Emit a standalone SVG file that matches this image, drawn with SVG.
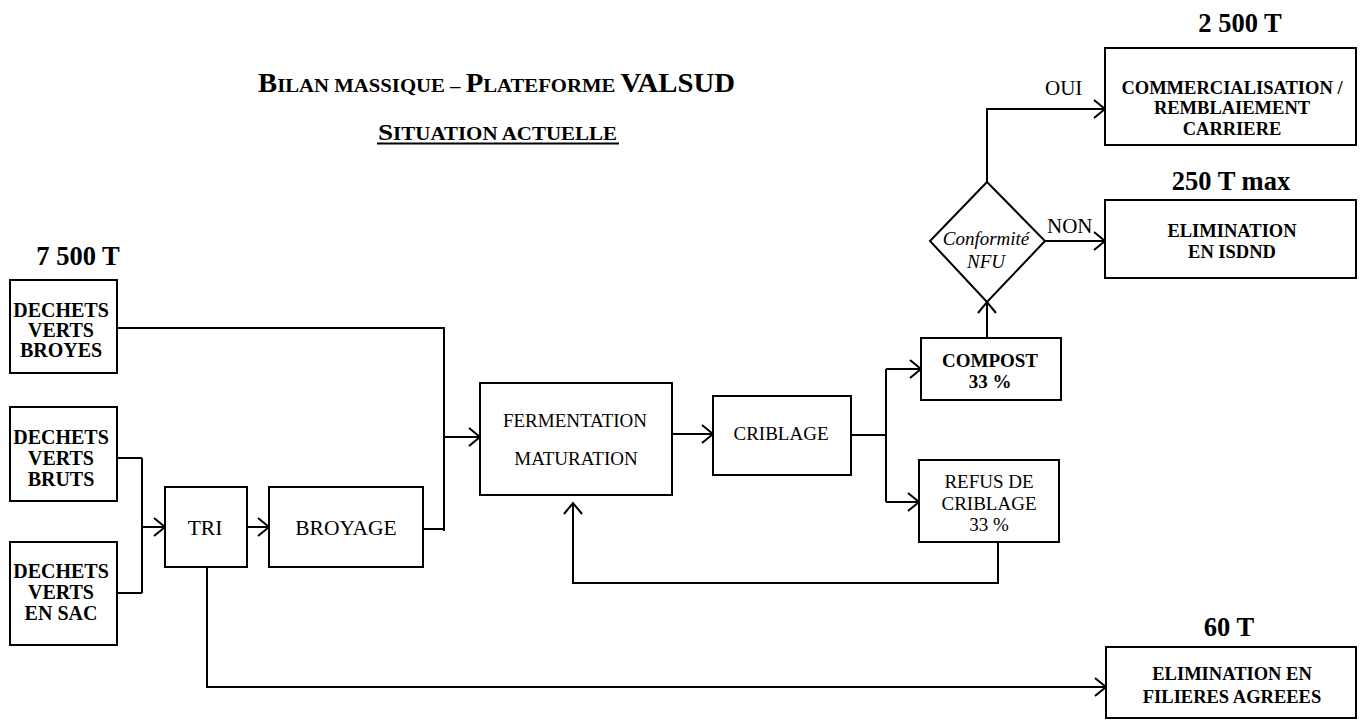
<svg xmlns="http://www.w3.org/2000/svg" width="1361" height="722" viewBox="0 0 1361 722">
<style>
.box{fill:#fff;stroke:#000;stroke-width:2}
.ln{fill:none;stroke:#000;stroke-width:2}
.t{font-family:"Liberation Serif","Times New Roman",serif;fill:#000}
.b{font-weight:bold;font-size:19px;text-anchor:middle}
.bd{font-weight:bold;font-size:20px;text-anchor:middle}
.bc{font-weight:bold;font-size:18.5px;text-anchor:middle}
.n{font-size:19px;text-anchor:middle}
.nl{font-size:21.5px;text-anchor:middle}
.it{font-size:19px;font-style:italic;text-anchor:middle}
.big{font-weight:bold;font-size:26.5px;text-anchor:middle}
.lab{font-size:21px}
</style>
<defs>
<marker id="ar" markerUnits="userSpaceOnUse" markerWidth="14" markerHeight="22" viewBox="-1 -10 14 20" refX="11" refY="0" orient="auto">
<path d="M0,-9 L11,0 L0,9" fill="none" stroke="#000" stroke-width="2"/>
</marker>
</defs>
<rect width="1361" height="722" fill="#fff"/>

<g id="title" class="t" font-weight="bold">
<text x="258" y="92" textLength="477" lengthAdjust="spacingAndGlyphs"><tspan font-size="27">B</tspan><tspan font-size="19.5">ILAN MASSIQUE – </tspan><tspan font-size="27">P</tspan><tspan font-size="19.5">LATEFORME </tspan><tspan font-size="27">VALSUD</tspan></text>
<text x="378" y="140" textLength="239" lengthAdjust="spacingAndGlyphs"><tspan font-size="24">S</tspan><tspan font-size="18.5">ITUATION ACTUELLE</tspan></text>
<line x1="377" y1="143.5" x2="619" y2="143.5" stroke="#000" stroke-width="2"/>
</g>

<g id="connectors">
<path class="ln" d="M117,328 H444 M444,327 V531 M423,529 H444"/>
<path class="ln" d="M444,437 H480" marker-end="url(#ar)"/>
<path class="ln" d="M117,458 H142 M117,593 H142 M142,458 V593"/>
<path class="ln" d="M142,527 H165" marker-end="url(#ar)"/>
<path class="ln" d="M247,527 H269" marker-end="url(#ar)"/>
<path class="ln" d="M207,567 V687 H1106" marker-end="url(#ar)"/>
<path class="ln" d="M672,434 H713" marker-end="url(#ar)"/>
<path class="ln" d="M851,435 H886 M886,369 V502"/>
<path class="ln" d="M886,369 H921" marker-end="url(#ar)"/>
<path class="ln" d="M886,502 H919" marker-end="url(#ar)"/>
<path class="ln" d="M987,338 V302" marker-end="url(#ar)"/>
<path class="ln" d="M987,182 V109 H1105" marker-end="url(#ar)"/>
<path class="ln" d="M1045,241 H1105" marker-end="url(#ar)"/>
<path class="ln" d="M998,542 V583 H573 V503" marker-end="url(#ar)"/>
<text class="t lab" x="1045" y="95">OUI</text>
<text class="t lab" x="1047" y="233">NON</text>
</g>

<g id="n-dvbroyes">
<text class="t big" x="78" y="265">7 500 T</text>
<rect class="box" x="10" y="280" width="107" height="93"/>
<text class="t bd" x="61" y="317">DECHETS</text>
<text class="t bd" x="61" y="337">VERTS</text>
<text class="t bd" x="61" y="357">BROYES</text>
</g>
<g id="n-dvbruts">
<rect class="box" x="10" y="407" width="107" height="94"/>
<text class="t bd" x="61" y="444">DECHETS</text>
<text class="t bd" x="61" y="465">VERTS</text>
<text class="t bd" x="61" y="486">BRUTS</text>
</g>
<g id="n-dvsac">
<rect class="box" x="10" y="542" width="107" height="103"/>
<text class="t bd" x="61" y="578">DECHETS</text>
<text class="t bd" x="61" y="599">VERTS</text>
<text class="t bd" x="61" y="620">EN SAC</text>
</g>
<g id="n-tri">
<rect class="box" x="165" y="487" width="82" height="80"/>
<text class="t nl" x="205" y="535">TRI</text>
</g>
<g id="n-broyage">
<rect class="box" x="269" y="487" width="154" height="80"/>
<text class="t nl" x="346" y="535">BROYAGE</text>
</g>
<g id="n-fermentation">
<rect class="box" x="480" y="383" width="192" height="112"/>
<text class="t n" x="575" y="427">FERMENTATION</text>
<text class="t n" x="576" y="465">MATURATION</text>
</g>
<g id="n-criblage">
<rect class="box" x="713" y="396" width="138" height="79"/>
<text class="t n" x="781" y="440">CRIBLAGE</text>
</g>
<g id="n-compost">
<rect class="box" x="921" y="338" width="140" height="62"/>
<text class="t b" x="990" y="367">COMPOST</text>
<text class="t b" x="990" y="388">33 %</text>
</g>
<g id="n-refus">
<rect class="box" x="919" y="460" width="140" height="82"/>
<text class="t n" x="989" y="488">REFUS DE</text>
<text class="t n" x="989" y="510">CRIBLAGE</text>
<text class="t n" x="989" y="531">33 %</text>
</g>
<g id="n-conformite">
<polygon class="box" points="987,182 1045,241 987,302 930,241"/>
<text class="t it" x="986" y="245">Conformité</text>
<text class="t it" x="986" y="268">NFU</text>
</g>
<g id="n-commercialisation">
<text class="t big" x="1240" y="32">2 500 T</text>
<rect class="box" x="1105" y="48" width="251" height="97"/>
<text class="t bc" x="1232" y="94">COMMERCIALISATION /</text>
<text class="t bc" x="1232" y="114">REMBLAIEMENT</text>
<text class="t bc" x="1232" y="135">CARRIERE</text>
</g>
<g id="n-isdnd">
<text class="t big" x="1231" y="190">250 T max</text>
<rect class="box" x="1105" y="200" width="251" height="78"/>
<text class="t bc" x="1232" y="237">ELIMINATION</text>
<text class="t bc" x="1232" y="258">EN ISDND</text>
</g>
<g id="n-filieres">
<text class="t big" x="1229" y="636">60 T</text>
<rect class="box" x="1106" y="647" width="250" height="71"/>
<text class="t bc" x="1232" y="680">ELIMINATION EN</text>
<text class="t bc" x="1232" y="703">FILIERES AGREEES</text>
</g>
</svg>
